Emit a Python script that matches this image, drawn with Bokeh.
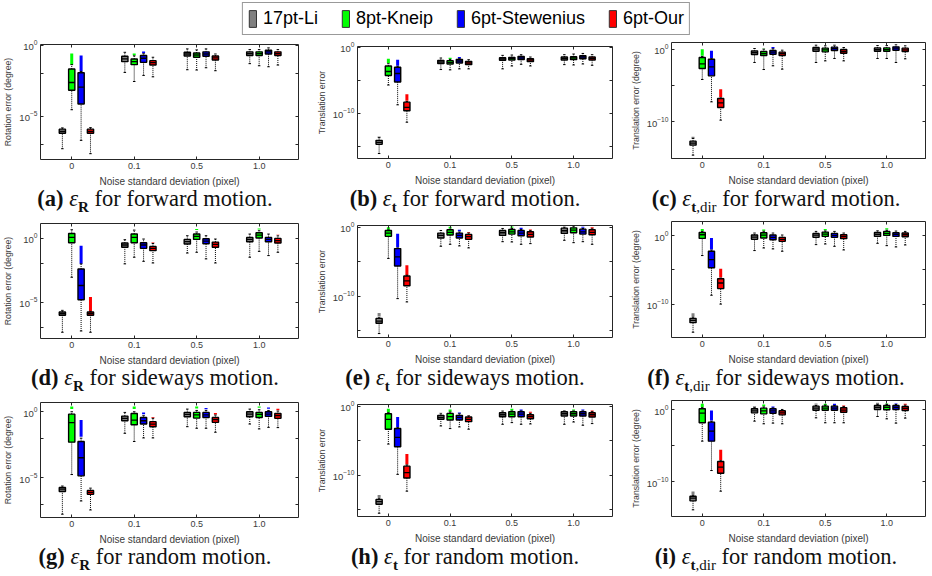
import numpy as np
from bokeh.plotting import figure
from bokeh.models import (Range1d, FixedTicker, LogAxis, LinearAxis, Legend,
                          LegendItem, Div, ColumnDataSource, CustomJSTickFormatter)
from bokeh.layouts import row, column
from bokeh.embed import file_html
from bokeh.resources import INLINE

METHODS = ["17pt-Li", "8pt-Kneip", "6pt-Stewenius", "6pt-Our"]
COLORS = ["#808080", "#00ff00", "#0000ff", "#ff0000"]
NOISE_LABELS = ["0", "0.1", "0.5", "1.0"]
nan = float("nan")

# Each row: one box (noise level major, method minor). Values are log10 of the error:
# [whisker_low, q1, median, q3, whisker_high, outliers_low, outliers_high]
PANEL_A = [
    [-7.30, -6.21, -6.07, -5.92, -5.83, nan, nan],
    [-4.55, -3.18, -2.63, -1.68, -1.37, -1.37, -0.59],
    [-6.71, -4.15, -2.96, -1.94, -1.85, -1.85, -0.73],
    [-7.65, -6.21, -6.07, -5.92, -5.81, nan, nan],
    [-1.92, -1.16, -0.97, -0.78, -0.50, nan, nan],
    [-2.56, -1.37, -1.16, -0.97, -0.75, -0.70, -0.58],
    [-2.13, -1.21, -0.92, -0.73, -0.60, -0.55, -0.45],
    [-2.23, -1.40, -1.23, -1.09, -0.85, nan, nan],
    [-1.73, -0.76, -0.62, -0.50, -0.26, nan, nan],
    [-1.75, -0.85, -0.69, -0.55, -0.33, nan, nan],
    [-1.59, -0.78, -0.62, -0.47, -0.26, nan, nan],
    [-1.80, -1.04, -0.90, -0.76, -0.62, nan, nan],
    [-1.30, -0.73, -0.59, -0.47, -0.31, nan, nan],
    [-1.45, -0.73, -0.59, -0.47, -0.31, nan, nan],
    [-1.52, -0.62, -0.47, -0.36, -0.19, nan, nan],
    [-1.40, -0.73, -0.59, -0.47, -0.31, nan, nan],
]
PANEL_B = [
    [-16.07, -14.68, -14.38, -14.08, -13.68, -13.68, -13.50],
    [-5.72, -4.28, -3.68, -2.84, -2.50, -2.40, -1.74],
    [-8.71, -5.27, -3.98, -3.03, -2.90, -2.80, -1.90],
    [-11.34, -9.60, -9.10, -8.31, -8.20, -8.10, -7.10],
    [-3.38, -2.49, -2.24, -1.99, -1.64, nan, nan],
    [-3.43, -2.54, -2.29, -2.04, -1.85, -1.80, -1.60],
    [-3.28, -2.39, -2.09, -1.84, -1.75, -1.70, -1.50],
    [-3.28, -2.64, -2.39, -2.14, -1.89, nan, nan],
    [-3.28, -1.99, -1.79, -1.59, -1.24, nan, nan],
    [-2.84, -1.94, -1.74, -1.54, -1.19, nan, nan],
    [-2.59, -1.89, -1.64, -1.39, -1.14, nan, nan],
    [-2.84, -2.19, -1.94, -1.74, -1.49, nan, nan],
    [-2.64, -1.94, -1.69, -1.49, -1.14, nan, nan],
    [-2.69, -1.89, -1.64, -1.44, -1.04, nan, nan],
    [-2.54, -1.74, -1.49, -1.29, -0.95, nan, nan],
    [-2.74, -1.94, -1.69, -1.49, -1.14, nan, nan],
]
PANEL_C = [
    [-14.59, -13.21, -12.94, -12.66, -12.29, -12.29, -12.06],
    [-4.17, -2.66, -2.02, -1.15, -1.00, -0.90, 0.00],
    [-7.25, -3.67, -2.43, -1.38, -1.30, -1.20, -0.23],
    [-9.77, -8.03, -7.39, -6.79, -6.70, -6.60, -5.50],
    [-1.83, -0.73, -0.46, -0.23, 0.09, nan, nan],
    [-2.80, -0.87, -0.60, -0.32, 0.00, 0.05, 0.10],
    [-2.29, -0.69, -0.41, -0.18, 0.05, 0.10, 0.30],
    [-2.75, -0.87, -0.60, -0.41, -0.14, nan, nan],
    [-1.83, -0.28, 0.00, 0.23, 0.55, nan, nan],
    [-1.61, -0.37, -0.09, 0.14, 0.46, nan, nan],
    [-1.28, -0.18, 0.09, 0.28, 0.55, nan, nan],
    [-1.61, -0.55, -0.32, -0.05, 0.23, nan, nan],
    [-1.28, -0.28, -0.05, 0.18, 0.50, nan, nan],
    [-1.28, -0.28, -0.05, 0.18, 0.50, nan, nan],
    [-1.83, -0.14, 0.14, 0.32, 0.60, nan, nan],
    [-1.33, -0.32, -0.09, 0.14, 0.46, nan, nan],
]
PANEL_D = [
    [-7.37, -6.04, -5.91, -5.78, -5.65, nan, nan],
    [-3.05, -0.34, 0.08, 0.39, 0.68, nan, nan],
    [-7.27, -4.82, -3.70, -2.40, -2.00, -2.00, -0.57],
    [-7.37, -6.04, -5.91, -5.78, -5.73, -5.73, -4.60],
    [-2.00, -0.70, -0.52, -0.36, -0.10, nan, nan],
    [-1.48, -0.34, 0.08, 0.34, 0.65, nan, nan],
    [-1.80, -0.78, -0.52, -0.34, -0.05, nan, nan],
    [-1.93, -0.96, -0.78, -0.63, -0.40, -0.35, -0.30],
    [-1.15, -0.44, -0.26, -0.08, 0.21, nan, nan],
    [-1.09, -0.08, 0.16, 0.34, 0.50, 0.65, 0.73],
    [-1.61, -0.42, -0.21, -0.03, 0.21, nan, nan],
    [-1.93, -0.70, -0.47, -0.29, -0.05, nan, nan],
    [-1.48, -0.26, -0.08, 0.08, 0.34, nan, nan],
    [-1.02, 0.03, 0.26, 0.44, 0.60, 0.70, 0.78],
    [-1.35, -0.26, -0.08, 0.08, 0.34, nan, nan],
    [-1.09, -0.36, -0.18, 0.00, 0.20, 0.28, 0.31],
]
PANEL_E = [
    [-15.38, -13.90, -13.57, -13.19, -13.10, -12.90, -12.40],
    [-4.52, -1.33, -0.86, -0.48, -0.40, -0.38, 0.00],
    [-10.33, -5.62, -4.29, -3.10, -3.00, -2.90, -0.95],
    [-10.81, -8.48, -7.76, -7.05, -6.95, -6.90, -5.50],
    [-2.76, -1.57, -1.19, -0.86, -0.48, nan, nan],
    [-2.48, -1.14, -0.76, -0.38, -0.30, -0.20, 0.05],
    [-2.71, -1.57, -1.19, -0.86, -0.70, -0.60, -0.38],
    [-3.00, -1.76, -1.38, -1.05, -0.85, -0.80, -0.70],
    [-2.10, -1.19, -0.81, -0.48, -0.19, nan, nan],
    [-2.14, -1.00, -0.67, -0.33, -0.20, -0.10, 0.10],
    [-2.48, -1.24, -0.86, -0.48, -0.35, -0.30, -0.10],
    [-2.38, -1.43, -1.05, -0.67, -0.50, -0.45, -0.33],
    [-1.90, -0.90, -0.52, -0.14, 0.00, nan, nan],
    [-2.24, -0.81, -0.43, -0.10, 0.14, nan, nan],
    [-2.10, -1.00, -0.67, -0.29, -0.20, -0.10, 0.05],
    [-2.48, -1.10, -0.76, -0.38, -0.25, -0.20, 0.00],
]
PANEL_F = [
    [-14.11, -12.71, -12.37, -12.08, -11.90, -11.80, -11.35],
    [-2.90, -0.39, 0.14, 0.48, 0.60, 0.70, 0.97],
    [-8.70, -4.69, -3.48, -2.27, -2.10, -2.00, -0.34],
    [-10.00, -7.73, -6.91, -6.28, -6.20, -6.10, -4.83],
    [-2.17, -0.53, -0.19, 0.10, 0.39, nan, nan],
    [-1.79, -0.34, 0.10, 0.43, 0.65, 0.72, 0.92],
    [-1.93, -0.58, -0.24, 0.10, 0.39, nan, nan],
    [-2.27, -0.82, -0.53, -0.24, 0.10, nan, nan],
    [-1.30, -0.24, 0.10, 0.34, 0.63, nan, nan],
    [-1.21, -0.10, 0.24, 0.53, 0.70, 0.80, 0.97],
    [-1.55, -0.24, 0.05, 0.34, 0.63, nan, nan],
    [-2.08, -0.43, -0.14, 0.14, 0.39, nan, nan],
    [-1.11, -0.10, 0.19, 0.48, 0.72, nan, nan],
    [-1.45, 0.05, 0.34, 0.63, 0.80, 0.90, 1.10],
    [-1.64, -0.10, 0.19, 0.43, 0.68, nan, nan],
    [-1.35, -0.14, 0.14, 0.39, 0.63, nan, nan],
]
PANEL_G = [
    [-7.75, -6.03, -5.85, -5.73, -5.62, nan, nan],
    [-4.75, -2.30, -0.83, -0.18, 0.00, 0.20, 0.40],
    [-6.75, -4.85, -3.48, -2.25, -2.00, -1.90, -0.63],
    [-7.43, -6.25, -6.10, -5.95, -5.78, nan, nan],
    [-1.63, -0.68, -0.50, -0.33, -0.05, nan, nan],
    [-2.25, -0.98, -0.63, -0.13, 0.00, 0.20, 0.40],
    [-1.98, -0.93, -0.68, -0.43, -0.30, -0.18, -0.05],
    [-1.98, -1.13, -0.93, -0.75, -0.50, -0.45, -0.40],
    [-1.13, -0.38, -0.20, -0.05, 0.20, nan, nan],
    [-1.25, -0.48, -0.23, -0.05, 0.10, 0.25, 0.40],
    [-1.25, -0.43, -0.23, -0.05, 0.10, 0.18, 0.28],
    [-1.55, -0.80, -0.60, -0.43, -0.25, -0.20, -0.10],
    [-0.93, -0.38, -0.18, 0.00, 0.20, nan, nan],
    [-1.30, -0.43, -0.20, -0.05, 0.15, 0.30, 0.40],
    [-1.18, -0.35, -0.18, 0.00, 0.10, 0.22, 0.32],
    [-1.20, -0.50, -0.30, -0.13, 0.05, 0.12, 0.22],
]
PANEL_H = [
    [-15.48, -14.19, -13.81, -13.48, -13.30, -13.20, -12.86],
    [-5.48, -3.33, -1.90, -1.10, -0.95, -0.90, -0.38],
    [-9.86, -5.86, -4.52, -3.24, -3.10, -3.00, -1.57],
    [-12.29, -10.38, -9.62, -8.67, -8.50, -8.45, -6.90],
    [-2.86, -1.90, -1.62, -1.33, -1.10, -1.00, -0.95],
    [-3.24, -2.00, -1.52, -1.05, -0.85, -0.80, -0.48],
    [-3.00, -2.00, -1.62, -1.33, -1.10, -1.05, -0.90],
    [-3.33, -2.24, -1.90, -1.57, -1.40, -1.36, -1.30],
    [-2.62, -1.52, -1.24, -0.95, -0.71, nan, nan],
    [-2.38, -1.52, -1.14, -0.81, -0.70, -0.62, -0.38],
    [-2.62, -1.52, -1.14, -0.81, -0.70, -0.67, -0.48],
    [-2.57, -1.81, -1.52, -1.24, -1.05, -0.95, -0.81],
    [-2.62, -1.43, -1.10, -0.81, -0.70, -0.67, -0.62],
    [-2.29, -1.43, -1.10, -0.81, -0.70, -0.62, -0.48],
    [-2.76, -1.43, -1.10, -0.81, -0.70, -0.62, -0.48],
    [-2.52, -1.57, -1.24, -0.95, -0.80, -0.76, -0.62],
]
PANEL_I = [
    [-13.95, -12.70, -12.33, -12.05, -11.90, -11.80, -11.40],
    [-4.37, -1.81, -0.47, 0.14, 0.30, 0.35, 0.84],
    [-8.47, -4.37, -2.98, -1.72, -1.60, -1.50, -0.10],
    [-11.35, -8.84, -8.00, -7.21, -7.10, -7.00, -5.58],
    [-1.58, -0.42, -0.14, 0.14, 0.30, 0.37, 0.50],
    [-1.95, -0.56, -0.14, 0.23, 0.40, 0.50, 0.74],
    [-1.86, -0.47, -0.14, 0.14, 0.25, 0.28, 0.47],
    [-1.95, -0.70, -0.42, -0.14, 0.05, nan, nan],
    [-1.12, -0.05, 0.23, 0.51, 0.60, 0.70, 0.88],
    [-1.81, -0.05, 0.23, 0.51, 0.65, 0.65, 0.84],
    [-1.81, -0.05, 0.23, 0.51, 0.60, 0.65, 0.84],
    [-1.81, -0.33, -0.05, 0.28, 0.45, 0.50, 0.60],
    [-0.93, 0.05, 0.33, 0.60, 0.75, 0.80, 0.98],
    [-1.26, 0.00, 0.33, 0.60, 0.75, 0.84, 0.93],
    [-1.86, 0.05, 0.33, 0.60, 0.75, 0.80, 0.88],
    [-1.16, -0.09, 0.19, 0.47, 0.65, 0.70, 0.84],
]

# y-limits (log10) per panel, labelled decades, unlabelled decade ticks
YLIM = {"a": (-8.06, 0.05), "b": (-16.82, 0.10), "c": (-15.05, 0.92),
        "d": (-7.86, 1.17), "e": (-15.95, 0.24), "f": (-14.88, 2.08),
        "g": (-8.00, 0.70), "h": (-15.95, 0.24), "i": (-14.88, 1.30)}
ROT_MAJOR, ROT_MINOR = [-5, 0], [-2, -7]
TR_MAJOR, TR_MINOR = [-10, 0], [-5, -15]
YLABELS = ["Rotation error (degree)", "Translation error", "Translation error (degree)"]
XLABEL = "Noise standard deviation (pixel)"
SUBS = ["<b>R</b>", "<b>t</b>", "<b>t</b>,dir"]
MOTIONS = ["forward", "sideways", "random"]

# ---- layout parameters ----
GROUP_POS = [0, 1, 2, 3]
OFFSETS = [-0.15, 0.0, 0.15, 0.30]
BOX_W = 0.10
CAP_W = 0.04
X_LO, X_HI = -0.5, 3.63
COL_W = [310, 310, 312]
BORDER_L = [39, 47, 51]
BORDER_R = [12, 8, 7]
BORDER_T = [8, 10, 6]
FRAME_H = [115, 112, 116]
FIG_H = 155
CAP_H = 24
SANS = "Liberation Sans"
TXT = "#3a3a3a"
BLANK = CustomJSTickFormatter(code="return ''")


def style_axis(ax, size="9px", show_labels=True):
    ax.axis_line_color = None
    ax.major_tick_in = 3
    ax.major_tick_out = 0
    ax.minor_tick_in = 3
    ax.minor_tick_out = 0
    ax.major_tick_line_color = "#262626"
    ax.minor_tick_line_color = "#262626"
    ax.major_label_text_font = SANS
    ax.major_label_text_color = TXT
    if show_labels:
        ax.major_label_text_font_size = size
        ax.major_label_standoff = 3
    else:
        ax.formatter = BLANK
        ax.major_label_standoff = 0


def make_panel(data, key, col, rowi):
    lo, hi = YLIM[key]
    major, minor = (ROT_MAJOR, ROT_MINOR) if col == 0 else (TR_MAJOR, TR_MINOR)
    arr = np.array(data, dtype=float)
    vals = 10.0 ** arr
    xs = np.array([g + o for g in GROUP_POS for o in OFFSETS])
    cols = [COLORS[i % 4] for i in range(len(xs))]
    src = ColumnDataSource(dict(
        x=xs, xl=xs - BOX_W / 2, xr=xs + BOX_W / 2, cl=xs - CAP_W / 2, cr=xs + CAP_W / 2,
        wlo=vals[:, 0], q1=vals[:, 1], med=vals[:, 2], q3=vals[:, 3], whi=vals[:, 4],
        color=cols))
    omask = ~np.isnan(arr[:, 5])
    osrc = ColumnDataSource(dict(x=xs[omask], lo=vals[omask, 5], hi=vals[omask, 6],
                                 color=[c for c, m in zip(cols, omask) if m]))

    p = figure(width=COL_W[col], height=FIG_H, y_axis_type="log",
               x_range=Range1d(X_LO, X_HI), y_range=Range1d(10.0 ** lo, 10.0 ** hi),
               output_backend="svg", toolbar_location=None,
               min_border_left=BORDER_L[col], min_border_right=BORDER_R[col],
               min_border_top=BORDER_T[col],
               min_border_bottom=FIG_H - BORDER_T[col] - FRAME_H[col])
    p.background_fill_color = "white"
    p.border_fill_color = "white"
    p.outline_line_color = "#262626"
    p.outline_line_width = 1
    p.grid.grid_line_color = None

    # whiskers
    p.segment(x0="x", y0="q3", x1="x", y1="whi", source=src, line_color="black",
              line_width=1, line_dash="1 1")
    p.segment(x0="x", y0="wlo", x1="x", y1="q1", source=src, line_color="black",
              line_width=1, line_dash="1 1")
    # outliers (dense markers)
    p.segment(x0="x", y0="lo", x1="x", y1="hi", source=osrc, line_color="color",
              line_width=3)
    # boxes
    p.quad(left="xl", right="xr", bottom="q1", top="q3", source=src,
           fill_color="color", line_color="black", line_width=1.4)
    p.segment(x0="xl", y0="med", x1="xr", y1="med", source=src, line_color="black",
              line_width=1.3)
    # caps
    p.segment(x0="cl", y0="whi", x1="cr", y1="whi", source=src, line_color="black", line_width=1)
    p.segment(x0="cl", y0="wlo", x1="cr", y1="wlo", source=src, line_color="black", line_width=1)

    xt = FixedTicker(ticks=GROUP_POS)
    yt = FixedTicker(ticks=[10.0 ** m for m in major], minor_ticks=[10.0 ** m for m in minor])

    xa = p.xaxis[0]
    xa.ticker = xt
    xa.major_label_overrides = {g: lab for g, lab in zip(GROUP_POS, NOISE_LABELS)}
    style_axis(xa, "9px")
    xa.axis_label = XLABEL
    xa.axis_label_text_font = SANS
    xa.axis_label_text_font_size = "10px"
    xa.axis_label_text_font_style = "normal"
    xa.axis_label_text_color = TXT
    xa.axis_label_standoff = 4

    ya = p.yaxis[0]
    ya.ticker = yt
    style_axis(ya, "9.5px")
    ya.axis_label = YLABELS[col]
    ya.axis_label_text_font = SANS
    ya.axis_label_text_font_size = "8.7px"
    ya.axis_label_text_font_style = "normal"
    ya.axis_label_text_color = TXT
    ya.axis_label_standoff = 3

    ra = LogAxis(ticker=yt)
    style_axis(ra, show_labels=False)
    p.add_layout(ra, "right")
    ta = LinearAxis(ticker=xt)
    style_axis(ta, show_labels=False)
    p.add_layout(ta, "above")

    letter = "abcdefghi"[rowi * 3 + col]
    html = ('<div style="width:%dpx;height:%dpx;overflow:visible;text-align:center;'
            'font-family:\'Liberation Serif\',serif;'
            'font-size:22.5px;line-height:16px;color:#111;white-space:nowrap;">'
            '<b>(%s)</b> <i>&epsilon;</i><sub style="font-size:15px;line-height:0">%s</sub>'
            ' for %s motion.</div>') % (COL_W[col], CAP_H, letter, SUBS[col], MOTIONS[rowi])
    cap = Div(text=html, width=COL_W[col], height=CAP_H, margin=0,
              styles={"margin": "0", "padding": "0", "overflow": "visible"})
    return column(p, cap, spacing=0)


# legend strip (swatch renderers sit outside the visible range; only their legend glyphs show)
lg = figure(width=932, height=36, x_range=Range1d(0, 1), y_range=Range1d(0, 1),
            output_backend="svg", toolbar_location=None, min_border=0)
lg.axis.visible = False
lg.grid.grid_line_color = None
lg.outline_line_color = None
items = []
for m, c in zip(METHODS, COLORS):
    r = lg.quad(left=[5], right=[6], top=[6], bottom=[5], fill_color=c, line_color="#333333")
    items.append(LegendItem(label=m, renderers=[r]))
leg = Legend(items=items, orientation="horizontal", location="top_center",
             label_text_font=SANS, label_text_font_size="18px", label_text_color="black",
             label_height=21, glyph_height=21, glyph_width=9, label_standoff=6,
             spacing=23, padding=5, margin=2, border_line_color="#333333",
             border_line_width=1, background_fill_alpha=1)
lg.add_layout(leg, "center")

panels = [PANEL_A, PANEL_B, PANEL_C, PANEL_D, PANEL_E, PANEL_F, PANEL_G, PANEL_H, PANEL_I]
keys = "abcdefghi"
rows = []
for ri in range(3):
    cells = [make_panel(panels[ri * 3 + ci], keys[ri * 3 + ci], ci, ri) for ci in range(3)]
    rows.append(row(*cells, spacing=0))

layout = column(lg, *rows, spacing=0)
open("out.html", "w").write(file_html(layout, INLINE))
